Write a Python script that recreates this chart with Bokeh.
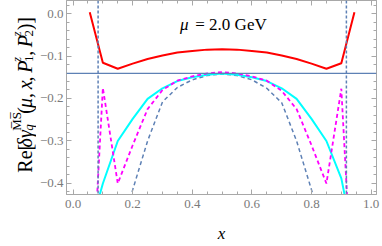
import math
from bokeh.plotting import figure
from bokeh.layouts import row, column
from bokeh.models import (Range1d, SingleIntervalTicker, LinearAxis, Span, Label,
                          CustomJSTickFormatter)
from bokeh.embed import file_html
from bokeh.resources import INLINE

# ---------------- data ----------------
red_x = [0.056, 0.10, 0.15, 0.20, 0.25, 0.30, 0.35, 0.40, 0.45, 0.50,
         0.55, 0.60, 0.65, 0.70, 0.75, 0.80, 0.85, 0.90, 0.944]
red_y = [0.003, -0.116, -0.130, -0.118, -0.107, -0.099, -0.092, -0.088, -0.085, -0.084,
         -0.085, -0.088, -0.092, -0.099, -0.107, -0.118, -0.130, -0.117, 0.003]

cyan_x = [0.088, 0.10, 0.15, 0.20, 0.25, 0.30, 0.35, 0.40, 0.45, 0.50,
          0.55, 0.60, 0.65, 0.70, 0.75, 0.80, 0.85, 0.90, 0.912]
cyan_y = [-0.430, -0.400, -0.300, -0.248, -0.201, -0.176, -0.159, -0.150, -0.144, -0.141,
          -0.144, -0.150, -0.159, -0.176, -0.201, -0.248, -0.300, -0.388, -0.430]

magenta_x = [0.05, 0.10, 0.15, 0.20, 0.25, 0.30, 0.35, 0.40, 0.45, 0.50,
             0.55, 0.60, 0.65, 0.70, 0.75, 0.80, 0.85, 0.90, 0.95]
magenta_y = [-0.830, -0.175, -0.400, -0.310, -0.225, -0.180, -0.158, -0.148, -0.141, -0.138,
             -0.141, -0.148, -0.158, -0.182, -0.225, -0.310, -0.400, -0.177, -0.830]

blue_x = [0.15, 0.20, 0.25, 0.30, 0.35, 0.40, 0.45, 0.50,
          0.55, 0.60, 0.65, 0.70, 0.75, 0.80, 0.85]
blue_y = [-0.530, -0.415, -0.300, -0.208, -0.174, -0.156, -0.146, -0.142,
          -0.146, -0.156, -0.176, -0.210, -0.300, -0.415, -0.530]

hline_y = -0.141
vline_x = [0.084, 0.917]

x_ticks_interval = 0.2
y_ticks_interval = 0.1

# ---------------- layout ----------------
TOTAL_W, TOTAL_H = 382, 246
LEFT_W = 36          # strip holding the rotated y label
BOTTOM_H = 24        # strip holding the x label
MAIN_W = TOTAL_W - LEFT_W
MAIN_H = TOTAL_H - BOTTOM_H
ML, MR, MT, MB = 27, 6, 0, 28
X0, X1 = -0.022, 1.018
Y0, Y1 = -0.4259, 0.0306

SERIF = "Liberation Serif"
AXIS_GRAY = "#a8a8a8"
LABEL_GRAY = "#7a7a7a"
BLUE = "#5e81b5"

p = figure(width=MAIN_W, height=MAIN_H, output_backend="svg", toolbar_location=None,
           x_range=Range1d(X0, X1), y_range=Range1d(Y0, Y1),
           min_border_left=ML, min_border_right=MR, min_border_top=MT,
           min_border_bottom=MB, x_axis_type=None, y_axis_type=None)
p.grid.visible = False
p.outline_line_color = AXIS_GRAY
p.background_fill_color = "white"
p.border_fill_color = "white"

fmt = CustomJSTickFormatter(code="""
    const s = Math.abs(tick).toFixed(1);
    return (tick < -1e-9 ? '\u2212' : '') + s;
""")
blank = CustomJSTickFormatter(code="return '';")


def make_axis(interval, minor, show):
    ax = LinearAxis(ticker=SingleIntervalTicker(interval=interval, num_minor_ticks=minor))
    ax.axis_line_color = AXIS_GRAY
    ax.major_tick_line_color = AXIS_GRAY
    ax.minor_tick_line_color = AXIS_GRAY
    ax.major_tick_in = 5
    ax.major_tick_out = 0
    ax.minor_tick_in = 3
    ax.minor_tick_out = 0
    if show:
        ax.formatter = fmt
        ax.major_label_text_font = SERIF
        ax.major_label_text_font_size = "13px"
        ax.major_label_text_color = LABEL_GRAY
    else:
        ax.formatter = blank
        ax.major_label_text_font_size = "0px"
        ax.major_label_standoff = 0
    return ax


xb = make_axis(x_ticks_interval, 4, True)
xb.major_label_standoff = 5
p.add_layout(xb, "below")

yl = make_axis(y_ticks_interval, 5, True)
yl.major_label_standoff = 3
p.add_layout(yl, "left")

p.add_layout(make_axis(x_ticks_interval, 4, False), "above")
p.add_layout(make_axis(y_ticks_interval, 5, False), "right")

# reference lines
p.add_layout(Span(location=hline_y, dimension="width", line_color=BLUE, line_width=1.3))
for vx in vline_x:
    p.add_layout(Span(location=vx, dimension="height", line_color=BLUE,
                      line_width=1.5, line_dash="3 2"))

# curves
p.line(blue_x, blue_y, line_color=BLUE, line_width=1.5, line_dash="4 3")
p.line(cyan_x, cyan_y, line_color="#00ffff", line_width=2)
p.line(magenta_x, magenta_y, line_color="#ff00ff", line_width=1.8, line_dash="4 3")
p.line(red_x, red_y, line_color="#ff0000", line_width=2)

# in-plot annotation
p.add_layout(Label(x=0.359, y=-0.048, text="μ", text_font=SERIF, text_font_style="italic",
                   text_font_size="17px", text_color="black"))
p.add_layout(Label(x=0.410, y=-0.048, text="= 2.0 GeV", text_font=SERIF,
                   text_font_size="17px", text_color="black"))


def strip(w, h):
    f = figure(width=w, height=h, output_backend="svg", toolbar_location=None,
               x_range=Range1d(0, w), y_range=Range1d(h, 0),
               min_border=0, x_axis_type=None, y_axis_type=None)
    f.grid.visible = False
    f.outline_line_color = None
    f.background_fill_color = "white"
    f.border_fill_color = "white"
    return f


# ---------------- y-axis label, composed of rotated pieces ----------------
left = strip(LEFT_W, MAIN_H)
fs, ss = 20, 13
BASE, SUP, SUB = 24, 16, 28
pieces = [
    ("Re[", "normal", fs, BASE, 1.444 * fs),
    ("δγ", "italic", fs, BASE, 0.95 * fs),
    ("q", "italic", ss, SUB, 0),
    ("M\u0305S\u0305", "normal", ss, SUP, 19.5),
    ("(", "normal", fs, BASE, 0.333 * fs),
    ("μ", "italic", fs, BASE, 0.575 * fs),
    (",", "normal", fs, BASE, 0.5 * fs),
    ("x", "italic", fs, BASE, 0.444 * fs),
    (",", "normal", fs, BASE, 0.5 * fs),
    ("P", "italic", fs, BASE, 0.611 * fs),
    ("z", "italic", ss, SUP, 0),
    ("1", "normal", ss, SUB, 7),
    (",", "normal", fs, BASE, 0.5 * fs),
    ("P", "italic", fs, BASE, 0.611 * fs),
    ("z", "italic", ss, SUP, 0),
    ("2", "normal", ss, SUB, 7),
    (")]", "normal", fs, BASE, 0.666 * fs),
]
pos = 197.0
for txt, style, size, base, adv in pieces:
    left.add_layout(Label(x=base, y=pos, text=txt, angle=math.pi / 2, text_font=SERIF,
                          text_font_style=style, text_font_size=f"{size}px",
                          text_color="black", text_align="left",
                          text_baseline="alphabetic"))
    pos -= adv

# ---------------- x-axis label strip ----------------
bottom = strip(TOTAL_W, BOTTOM_H)
bottom.add_layout(Label(x=221, y=11, text="x", text_font=SERIF, text_font_style="italic",
                        text_font_size="17px", text_color="black", text_align="center",
                        text_baseline="middle"))

layout = column(row(left, p), bottom)
open("out.html", "w").write(file_html(layout, INLINE))
